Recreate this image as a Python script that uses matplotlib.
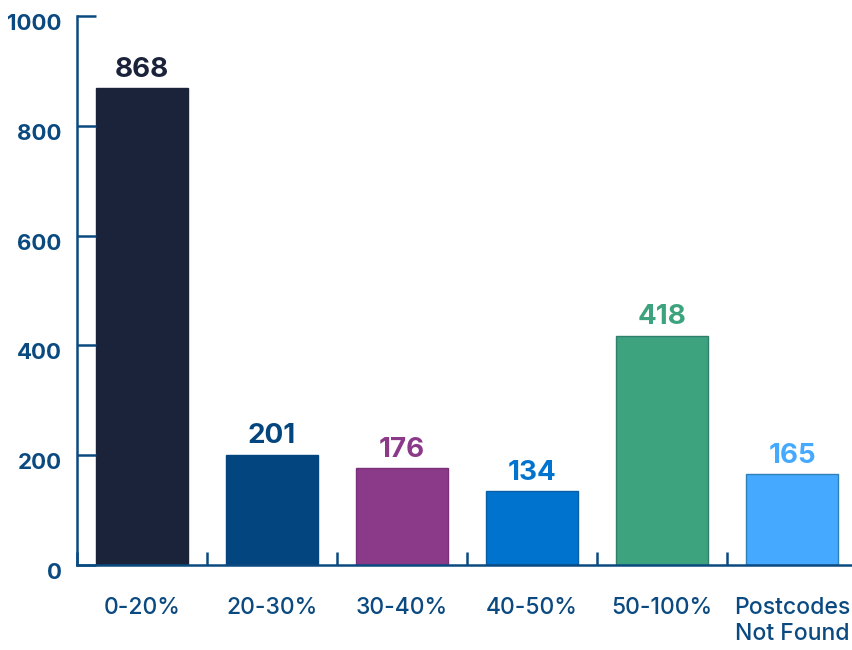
import matplotlib
matplotlib.use("Agg")
import matplotlib.pyplot as plt
import matplotlib.transforms as mtransforms

# data ------------------------------
categories = ["0-20%", "20-30%", "30-40%", "40-50%", "50-100%", "Postcodes\nNot Found"]
counts = [868, 201, 176, 134, 418, 165]
bar_colors = ["#1b233b", "#03467f", "#8b3a8a", "#0073cf", "#3da37e", "#45aaff"]
edge_colors = ["#1b233b", "#03467f", "#7a2f79", "#0a5ea6", "#2f7f6c", "#2f7fb8"]
y_ticks = [0, 200, 400, 600, 800, 1000]

axis_color = "#0b4a80"
plt.rcParams["font.family"] = ["Inter", "DejaVu Sans"]

fig = plt.figure(figsize=(8.52, 6.5), dpi=100)
ax = fig.add_axes([77 / 852, 85 / 650, 780 / 852, 549 / 650])

x = list(range(len(categories)))
bars = ax.bar(x, counts, width=0.715, color=bar_colors, edgecolor=edge_colors, linewidth=1)

# value labels above bars
for xi, val, col in zip(x, counts, bar_colors):
    ax.annotate(str(val), (xi, val), xytext=(0, 4), textcoords="offset points",
                ha="center", va="bottom", fontsize=20, fontweight="bold", color=col)

ax.set_xlim(-0.5, len(categories) - 0.5)
ax.set_ylim(0, 1000)

# spines
for s in ["top", "right"]:
    ax.spines[s].set_visible(False)
for s in ["left", "bottom"]:
    ax.spines[s].set_color(axis_color)
    ax.spines[s].set_linewidth(1.8)

# y ticks
ax.set_yticks(y_ticks)
ax.tick_params(axis="y", direction="in", length=13.5, width=1.8, color=axis_color,
               labelcolor=axis_color, labelsize=16, pad=11)
for lab in ax.get_yticklabels():
    lab.set_fontweight("bold")
    lab.set_transform(lab.get_transform() + mtransforms.ScaledTranslation(0, -6 / 100, fig.dpi_scale_trans))

# x ticks: boundary ticks as major, labels at centres as minor
ax.set_xticks([i - 0.5 for i in range(len(categories) + 1)])
ax.set_xticklabels([])
ax.tick_params(axis="x", which="major", direction="in", length=9.5, width=1.8, color=axis_color)
ax.set_xticks(x, minor=True)
ax.set_xticklabels(categories, minor=True)
ax.tick_params(axis="x", which="minor", length=0, labelcolor=axis_color, labelsize=16.5, pad=23)
for lab in ax.get_xticklabels(minor=True):
    lab.set_fontweight("medium")
    lab.set_verticalalignment("top")
    lab.set_linespacing(1.25)

fig.savefig("out.png", dpi=100)
